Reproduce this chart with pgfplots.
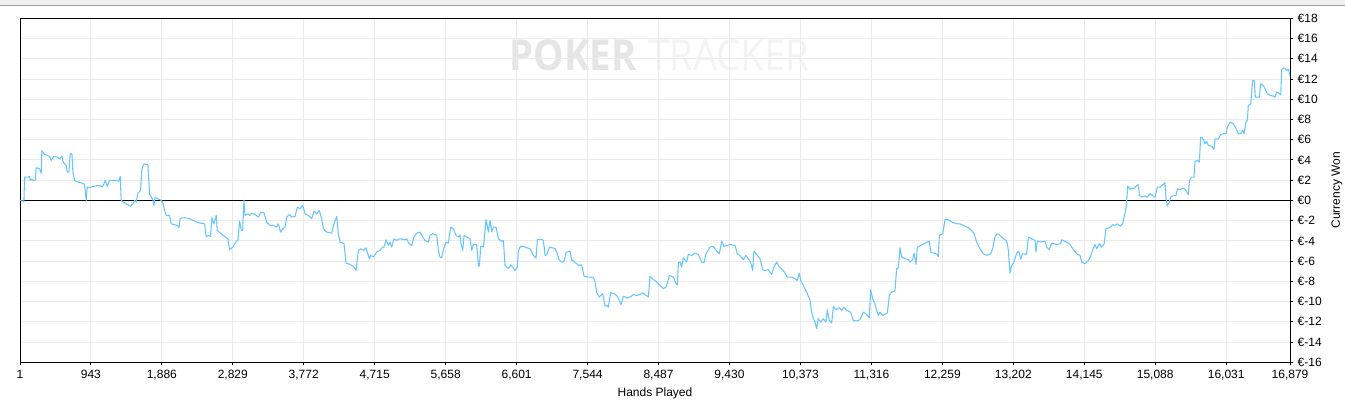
\documentclass[border=0pt]{standalone}
\usepackage{pgfplots}
\pgfplotsset{compat=1.18}
\usepackage{pgfplotstable}
\usepackage{fontspec}
\setmainfont{Liberation Sans}
\newfontfamily\wmfont{Open Sans}

\definecolor{won}{RGB}{102,198,255}
\definecolor{gridgray}{RGB}{235,235,235}
\definecolor{barfill}{RGB}{240,240,240}
\definecolor{barline}{RGB}{160,160,160}
\definecolor{wmdark}{RGB}{229,229,229}
\definecolor{wmlight}{RGB}{243,243,243}

% hands played vs currency won (EUR)
\pgfplotstableread{
hands won
1 0
53 -0.1
62 2.3
106 2.3
128 2.37
137 1.98
159 2.1
177 1.98
203 1.98
217 3.23
261 3.13
283 2.7
292 4.94
327 4.55
394 4.35
416 3.95
451 4.35
496 4.28
527 4.12
558 4.35
571 3.89
593 3.62
615 3.46
629 2.8
651 2.8
669 4.61
691 4.61
704 2.8
726 1.98
770 1.81
824 1.71
859 1.58
881 0
894 1.32
925 1.25
970 1.38
1036 1.48
1103 1.38
1134 1.98
1160 1.38
1191 1.98
1258 1.98
1315 1.91
1333 2.37
1346 0
1391 -0.26
1426 -0.4
1470 -0.56
1501 -0.33
1524 0
1546 -0.16
1568 0.72
1603 0.99
1621 3.13
1648 3.62
1701 3.52
1723 0.66
1745 0.33
1767 0.07
1780 -0.49
1798 0.33
1834 0.16
1878 0
1900 -0.26
1922 -0.99
1944 -1.48
1989 -1.48
2011 -2.31
2055 -2.4
2091 -2.47
2113 -2.7
2130 -1.75
2188 -1.71
2255 -1.81
2321 -2.04
2387 -2.24
2454 -2.31
2476 -3.62
2498 -3.46
2534 -3.56
2551 -1.71
2578 -2.31
2609 -1.48
2622 -2.96
2675 -3.29
2720 -3.56
2764 -3.79
2786 -4.87
2830 -4.61
2875 -4.05
2897 -3.95
2919 -2.04
2941 -2.96
2960 -2.96
2978 0
2991 -1.48
3022 -1.32
3058 -1.48
3080 -1.25
3124 -1.38
3169 -1.65
3200 -1.15
3244 -1.25
3279 -2.14
3324 -2.47
3368 -2.47
3412 -2.64
3434 -2.31
3465 -3.13
3492 -2.8
3523 -2.64
3545 -1.65
3581 -1.38
3612 -1.65
3656 -1.58
3687 -0.66
3722 -0.82
3758 -0.49
3789 -1.32
3833 -1.48
3877 -1.81
3908 -1.05
3944 -1.32
3979 -0.99
4010 -1.81
4033 -2.8
4077 -3.13
4143 -3.23
4174 -2.31
4210 -1.58
4232 -3.29
4254 -4.12
4307 -4.28
4334 -6.19
4387 -6.32
4431 -6.52
4467 -6.92
4498 -4.94
4529 -4.78
4564 -4.94
4600 -4.68
4617 -5.11
4644 -5.76
4662 -5.43
4697 -5.6
4741 -5.11
4786 -4.94
4821 -4.61
4839 -4.61
4865 -3.89
4896 -4.45
4918 -4.12
4941 -4.61
4972 -3.79
5007 -3.95
5051 -3.79
5118 -3.89
5140 -3.79
5171 -4.28
5206 -4.45
5237 -3.62
5273 -3.23
5317 -3.13
5353 -3.62
5384 -3.95
5428 -4.12
5450 -3.46
5486 -3.29
5539 -3.46
5561 -4.94
5583 -5.6
5605 -5.67
5627 -4.87
5663 -4.12
5694 -4.22
5725 -2.64
5760 -2.8
5796 -3.46
5827 -3.62
5849 -3.39
5862 -4.28
5884 -4.94
5902 -3.46
5938 -3.62
5982 -3.79
6004 -4.94
6026 -4.38
6070 -4.38
6093 -6.42
6106 -6.49
6124 -4.51
6159 -4.61
6195 -1.88
6226 -3.13
6248 -1.98
6270 -3.13
6292 -2.64
6328 -2.64
6358 -3.79
6403 -4.05
6425 -3.95
6447 -6.42
6491 -6.75
6522 -6.36
6549 -6.59
6580 -6.92
6611 -6.59
6624 -4.94
6655 -4.51
6713 -4.61
6779 -4.78
6824 -5.43
6859 -5.7
6877 -3.85
6934 -3.85
6956 -3.95
6979 -5.43
7001 -5.37
7036 -4.61
7089 -4.71
7112 -4.78
7134 -5.11
7169 -5.93
7200 -6.09
7231 -6.03
7258 -5.11
7311 -5.04
7333 -5.93
7355 -5.93
7377 -6.16
7400 -6.26
7426 -6.42
7466 -6.36
7497 -7.48
7555 -7.58
7621 -7.58
7643 -8.07
7665 -9.12
7701 -9.55
7745 -9.22
7776 -10.44
7798 -10.38
7820 -10.54
7851 -9.12
7896 -9.22
7931 -9.39
7967 -9.88
7989 -10.31
8020 -9.45
8064 -9.65
8108 -9.55
8153 -9.32
8197 -9.39
8241 -9.32
8277 -9.12
8308 -9.32
8352 -9.55
8374 -7.48
8419 -7.81
8463 -8.07
8507 -8.4
8551 -8.73
8587 -8.56
8605 -8.14
8631 -7.41
8684 -7.58
8720 -8.24
8737 -8.34
8751 -6.16
8772 -6.09
8794 -6.59
8816 -5.67
8861 -6.09
8883 -5.34
8927 -5.44
8971 -5.2
9016 -5.34
9060 -6.09
9091 -6.16
9118 -5.27
9171 -4.61
9215 -4.55
9259 -5.01
9295 -5.27
9326 -4.02
9357 -4.55
9392 -4.45
9436 -4.35
9503 -4.45
9534 -5.27
9569 -5.44
9614 -5.86
9649 -5.44
9680 -5.77
9711 -6.09
9738 -6.92
9755 -5.01
9791 -5.34
9835 -5.77
9871 -6.85
9902 -6.92
9946 -6.85
9990 -7.31
10021 -6.59
10057 -6.09
10092 -6.59
10136 -6.85
10167 -7.18
10198 -7.58
10256 -7.58
10300 -7.74
10331 -7.91
10358 -7.18
10376 -7.91
10411 -8.4
10455 -9.06
10500 -9.88
10522 -11.04
10544 -11.69
10566 -12.02
10588 -12.68
10610 -11.69
10641 -12.02
10677 -11.69
10712 -12.02
10730 -10.8
10757 -11.86
10788 -12.12
10810 -10.48
10845 -10.8
10890 -10.61
10921 -10.87
10951 -10.54
10987 -10.87
11040 -11.04
11076 -11.86
11120 -11.92
11164 -11.79
11209 -11.04
11244 -11.2
11288 -11.59
11306 -8.83
11333 -9.72
11363 -10.21
11386 -10.87
11408 -11.36
11430 -11.04
11465 -11.36
11527 -11.13
11554 -9.39
11585 -9.06
11629 -8.96
11651 -6.75
11674 -6.65
11696 -4.68
11718 -5.6
11762 -5.76
11807 -5.86
11829 -6.09
11864 -5.86
11882 -5.2
11909 -6.32
11926 -4.61
11971 -4.45
12028 -4.22
12086 -4.02
12104 -5.11
12139 -5.2
12174 -5.27
12205 -5.53
12219 -3.46
12263 -3.29
12294 -1.91
12338 -1.91
12383 -2.14
12449 -2.31
12493 -2.31
12537 -2.47
12604 -2.7
12648 -2.96
12679 -3.29
12715 -4.12
12759 -4.78
12803 -5.27
12848 -5.43
12901 -5.27
12927 -4.78
12959 -3.56
12990 -3.29
13025 -3.46
13069 -3.79
13105 -3.95
13122 -4.28
13136 -4.94
13158 -7.18
13180 -6.42
13211 -6.09
13247 -5.2
13273 -5.01
13300 -5.76
13326 -5.27
13379 -5.34
13401 -3.62
13446 -3.79
13490 -3.95
13503 -5.11
13521 -4.02
13565 -4.12
13623 -4.02
13645 -4.61
13680 -4.87
13712 -4.22
13778 -4.35
13831 -4.28
13844 -3.89
13911 -4.12
13955 -4.35
14000 -4.87
14044 -5.27
14088 -5.43
14110 -6.09
14155 -6.26
14199 -5.93
14230 -5.53
14257 -4.87
14288 -4.35
14310 -4.78
14345 -4.28
14376 -4.61
14407 -4.35
14434 -2.8
14478 -2.7
14522 -2.4
14553 -2.47
14584 -2.31
14620 -2.54
14655 -2.31
14673 -1.65
14691 -1.09
14708 -0.16
14722 1.42
14753 1.09
14779 1.22
14806 1.15
14841 1.48
14863 1.55
14877 0.49
14908 0.33
14952 0.43
14983 0.33
15019 0.66
15054 0.49
15085 0.33
15116 1.32
15152 1.32
15187 1.55
15218 1.75
15231 0.16
15249 -0.56
15275 -0.16
15293 0.33
15329 0.49
15364 0.49
15382 1.15
15426 1.09
15461 1.22
15497 0.99
15528 0.56
15541 1.98
15572 2.31
15603 2.31
15617 3.85
15648 3.95
15674 3.79
15692 6.26
15718 6.16
15750 5.6
15772 5.83
15794 5.43
15838 5.37
15869 5.04
15882 6.09
15927 6.09
15958 6.52
15993 6.59
16029 6.59
16046 7.25
16082 7.74
16126 7.58
16162 7.08
16193 6.59
16224 6.59
16250 6.92
16268 6.59
16294 7.74
16312 7.91
16325 9.39
16357 9.55
16383 11.86
16405 11.86
16418 10.21
16445 10.21
16472 10.21
16489 11.53
16525 11.36
16547 11.03
16578 10.54
16614 10.38
16658 10.31
16680 10.21
16702 10.7
16724 10.64
16756 10.44
16769 12.94
16800 13.08
16835 12.85
16857 12.94
16879 12.35
}\wondata

\begin{document}
\begin{tikzpicture}[x=0.75pt,y=0.75pt]
% page frame, 1345 x 410 px
\fill[white] (0,0) rectangle (1345,410);
\path[use as bounding box] (0,0) rectangle (1345,410);
\fill[barfill] (0,404) rectangle (1345,410);
\draw[barline,line width=0.75pt] (0,404) -- (1345,404);
\coordinate (plotsw) at (20,47.7);

% watermark
\node[anchor=base east,inner sep=0pt,text=wmdark,font=\wmfont\bfseries\fontsize{32}{32}\selectfont,xscale=0.9] at (637,339) {POKER};
\node[anchor=base west,inner sep=0pt,text=wmlight,font=\wmfont\fontsize{32}{32}\selectfont,xscale=0.9] at (648,339) {TRACKER};

\begin{axis}[
  at={(plotsw)}, anchor=south west,
  scale only axis, width=952.5pt, height=258pt,
  xmin=1, xmax=16879, ymin=-16, ymax=18,
  xtick={1,943,1886,2829,3772,4715,5658,6601,7544,8487,9430,10373,11316,12259,13202,14145,15088,16031,16879},
  ytick={-16,-14,...,18},
  xtick pos=bottom, ytick pos=right, yticklabel pos=right,
  tick align=outside, major tick length=2.25pt,
  tick style={black,line width=0.75pt},
  axis line style={black,line width=0.75pt},
  grid=major, major grid style={gridgray,line width=0.75pt},
  /pgf/number format/assume math mode=true,
  /pgf/number format/1000 sep={,},
  tick label style={font=\fontsize{9}{10}\selectfont},
  yticklabel={€\pgfmathprintnumber{\tick}},
  scaled y ticks=false, scaled x ticks=false,
  xlabel={Hands Played}, ylabel={Currency Won},
  every axis x label/.style={at={(rel axis cs:0.5,0)},yshift=-23pt,anchor=center,font=\fontsize{9}{10}\selectfont},
  every axis y label/.style={at={(rel axis cs:1,0.5)},xshift=35.25pt,rotate=90,anchor=center,font=\fontsize{9}{10}\selectfont},
  clip=true,
]
\addplot[black,line width=0.75pt] coordinates {(1,0) (16879,0)};
\addplot[won,line width=0.8pt,line join=round] table[x=hands,y=won] {\wondata};
\end{axis}
\end{tikzpicture}
\end{document}
